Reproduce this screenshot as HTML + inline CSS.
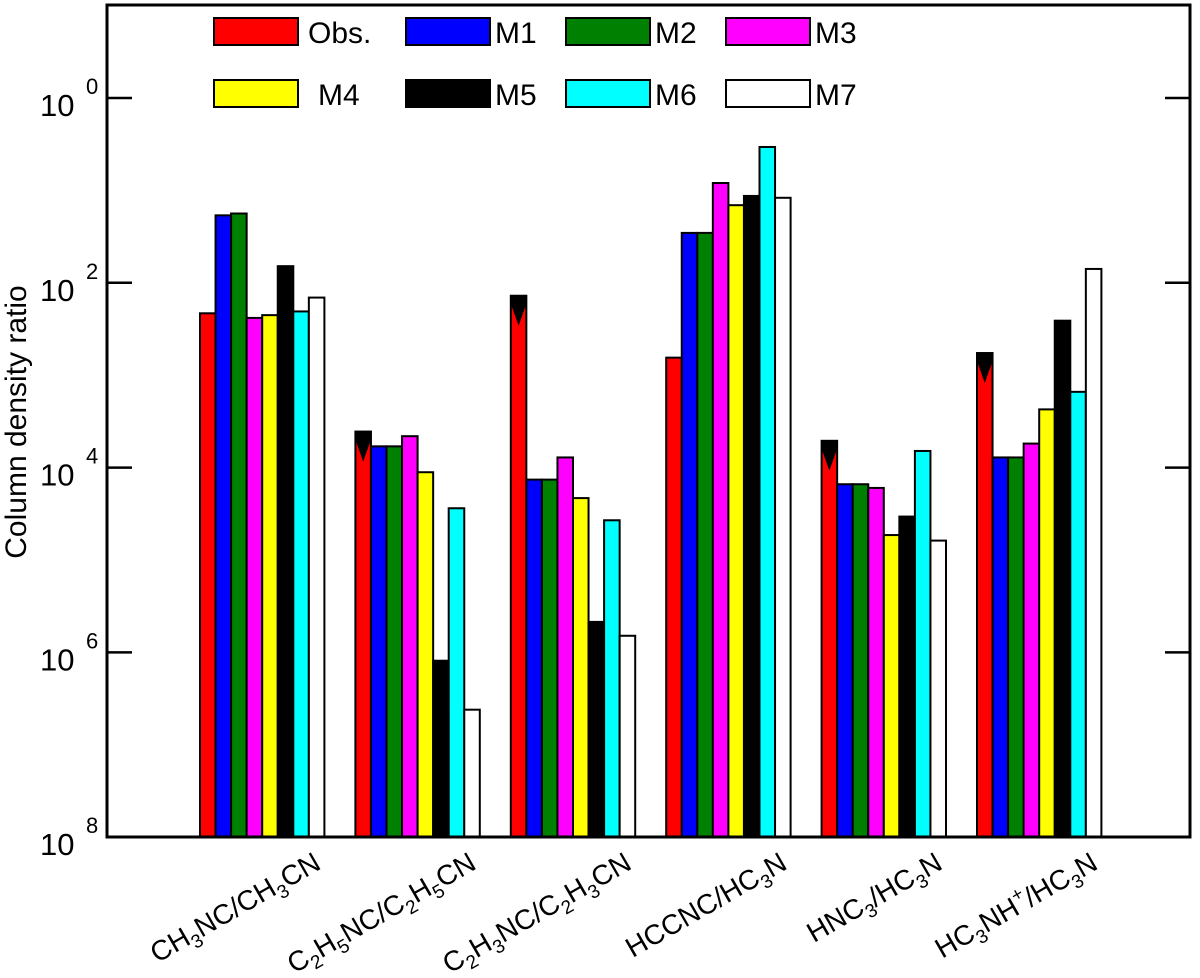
<!DOCTYPE html>
<html><head><meta charset="utf-8"><style>
body{margin:0;background:#fff}
svg{display:block;font-family:"Liberation Sans",sans-serif}
</style></head><body>
<svg id="chart" width="1200" height="978" viewBox="0 0 1200 978" xmlns="http://www.w3.org/2000/svg"></svg>
<script>
const categories = ["CH3NC/CH3CN","C2H5NC/C2H5CN","C2H3NC/C2H3CN","HCCNC/HC3N","HNC3/HC3N","HC3NH+/HC3N"];
const seriesNames = ["Obs.","M1","M2","M3","M4","M5","M6","M7"];
const seriesColors = ["#ff0000","#0000ff","#008000","#ff00ff","#ffff00","#000000","#00ffff","#ffffff"];
// log10 of ratios
const obs = [-2.33,-3.61,-2.14,-2.81,-3.71,-2.76];
const m1 = [-1.27,-3.77,-4.13,-1.46,-4.18,-3.89];
const m2 = [-1.25,-3.77,-4.13,-1.46,-4.18,-3.89];
const m3 = [-2.38,-3.66,-3.89,-0.92,-4.22,-3.74];
const m4 = [-2.35,-4.05,-4.33,-1.16,-4.73,-3.37];
const m5 = [-1.82,-6.09,-5.67,-1.06,-4.53,-2.41];
const m6 = [-2.31,-4.44,-4.57,-0.53,-3.82,-3.18];
const m7 = [-2.16,-6.62,-5.82,-1.08,-4.79,-1.85];
const upperLimit = [false,true,true,false,true,true];
const yTicks = [0,-2,-4,-6,-8];
const yTickLabels = ["0","2","4","6","8"];

const svg = document.getElementById('chart');
const NS = "http://www.w3.org/2000/svg";
const X0=107, X1=1190, Y0=5, Y1=837;
const yScale = v => 98 + (-v)*92.4;
const groupStart = i => 200 + i*155.4;
const barW = 15.55;
function mk(tag, attrs){const e=document.createElementNS(NS,tag);for(const k in attrs)e.setAttribute(k,attrs[k]);svg.appendChild(e);return e;}

const all=[obs,m1,m2,m3,m4,m5,m6,m7];
all.forEach((s,si)=>{
  s.forEach((v,ci)=>{
    const x=groupStart(ci)+si*barW, y=yScale(v);
    const r=mk('rect',{x:x,y:y,width:barW,height:Y1-y,fill:seriesColors[si],stroke:'#000','stroke-width':2});
    
    
    if(si===0 && upperLimit[ci]){
      const p=mk('polygon',{points:`${x},${y} ${x+barW},${y} ${x+barW},${y+8} ${x+barW/2},${y+30} ${x},${y+8}`,fill:'#000'});
      
      
    }
  });
});
const frame=mk('rect',{x:X0,y:Y0,width:X1-X0,height:Y1-Y0,fill:'none',stroke:'#000','stroke-width':3});


yTicks.forEach((t,i)=>{
  const y=yScale(t);
  const a=mk('line',{x1:X0,y1:y,x2:X0+25,y2:y,stroke:'#000','stroke-width':2.5});
  
  
  const b=mk('line',{x1:X1-25,y1:y,x2:X1,y2:y,stroke:'#000','stroke-width':2.5});
  
  
  const tx=mk('text',{x:40,y:y+18,'font-size':31});
  tx.textContent='10';
  
  
  const sp=mk('text',{x:86,y:y-4,'font-size':22});
  sp.textContent=yTickLabels[i];
  
  
});
const yl=mk('text',{x:0,y:0,'font-size':30,'text-anchor':'middle',transform:'translate(26,422) rotate(-90)'});
yl.textContent='Column density ratio';



const labelHTML=[
 ['CH','3','NC/CH','3','CN'],
 ['C','2','H','5','NC/C','2','H','5','CN'],
 ['C','2','H','3','NC/C','2','H','3','CN'],
 ['HCCNC/HC','3','N'],
 ['HNC','3','/HC','3','N'],
 ['HC','3','NH','+','/HC','3','N']];
categories.forEach((c,ci)=>{
  const ex=groupStart(ci)+8*barW-2, ey=868;
  const t=mk('text',{x:0,y:0,'font-size':28,'text-anchor':'end',transform:`translate(${ex},${ey}) rotate(-30)`});
  
  
  labelHTML[ci].forEach((p,pi)=>{
    const ts=document.createElementNS(NS,'tspan');
    if(pi%2===1){ts.setAttribute('font-size',19);ts.setAttribute('dy', p==='+'? -12 : 7);}
    else if(pi>0){ts.setAttribute('dy', labelHTML[ci][pi-1]==='+'?12:-7);}
    ts.textContent=p;t.appendChild(ts);
  });
});

const legX=[214,406,566,726], legLX=[308,495,655,815];
seriesNames.forEach((n,i)=>{
  const row=Math.floor(i/4), col=i%4;
  const y=row===0?18:80;
  const r=mk('rect',{x:legX[col],y:y,width:84,height:27,fill:seriesColors[i],stroke:'#000','stroke-width':2});
  
  
  const t=mk('text',{x:(i===4?318:legLX[col]),y:y+25,'font-size':30});
  t.textContent=n;
  
  
});
</script>
</body></html>
